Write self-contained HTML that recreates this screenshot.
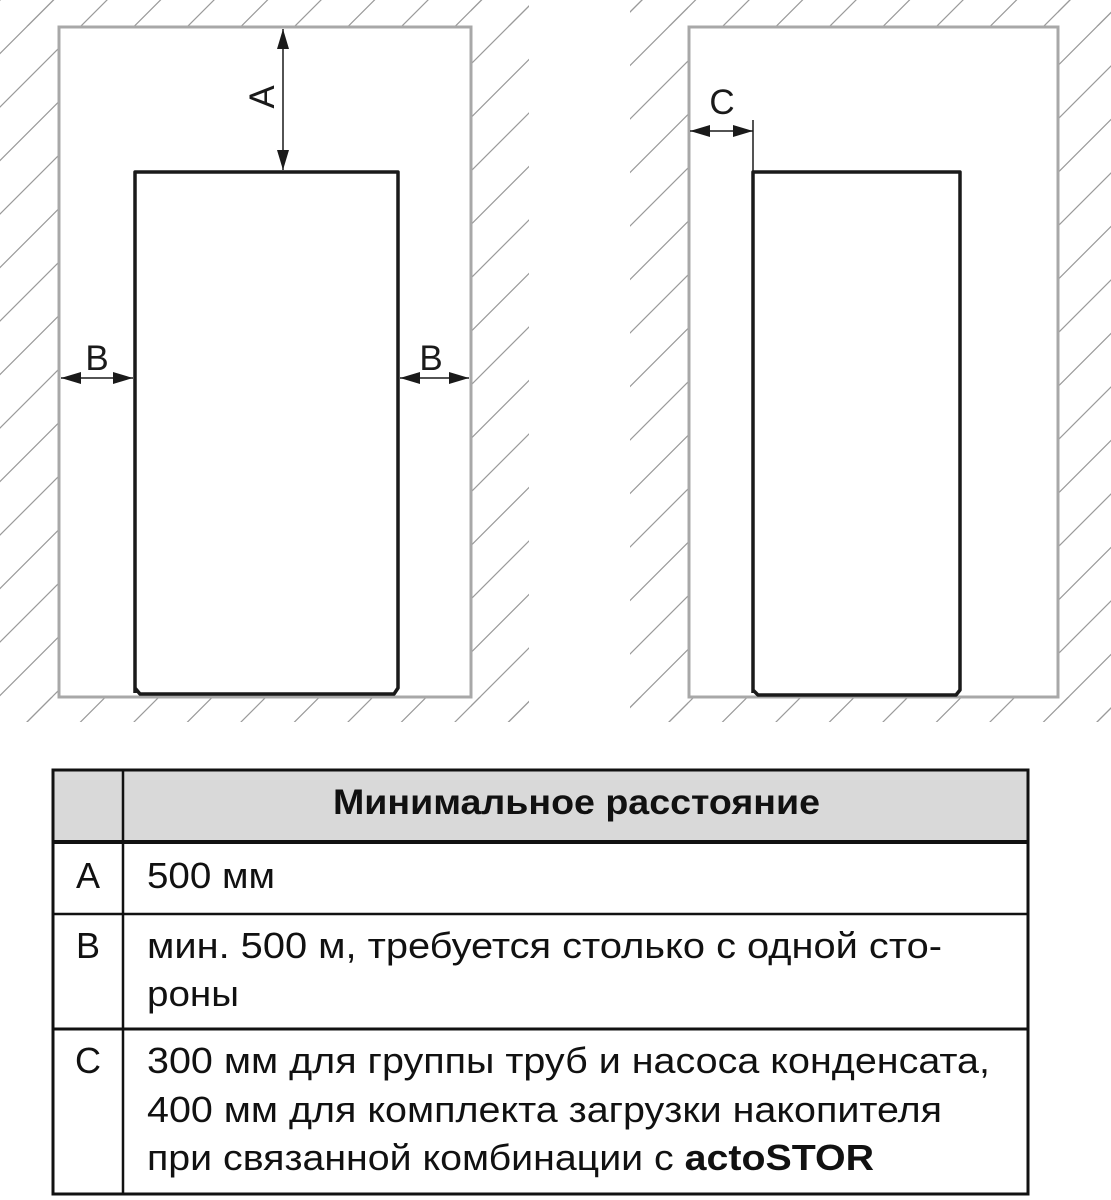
<!DOCTYPE html>
<html><head><meta charset="utf-8"><style>html,body{margin:0;padding:0;background:#fff}svg{display:block}text{font-family:"Liberation Sans",sans-serif}</style></head>
<body>
<svg width="1111" height="1200" viewBox="0 0 1111 1200" xmlns="http://www.w3.org/2000/svg">
<defs>
<pattern id="h" patternUnits="userSpaceOnUse" width="53.5" height="53.5">
<path d="M-5,58.5 L58.5,-5 M-5,5 L5,-5 M48.5,58.5 L58.5,48.5" stroke="#9a9a9a" stroke-width="1.2"/>
</pattern>
<marker id="ar2" viewBox="0 0 20 12" refX="20" refY="6" markerWidth="20" markerHeight="12" markerUnits="userSpaceOnUse" orient="auto-start-reverse">
<path d="M0,0 L20,6 L0,12 z" fill="#1a1a1a"/></marker>
</defs>
<g fill="url(#h)">
<rect x="0" y="0" width="529" height="26"/>
<rect x="0" y="0" width="58" height="722"/>
<rect x="471" y="0" width="58" height="722"/>
<rect x="0" y="697" width="529" height="25"/>
<rect x="630" y="0" width="481" height="26"/>
<rect x="630" y="0" width="58" height="722"/>
<rect x="1058" y="0" width="53" height="722"/>
<rect x="630" y="697" width="481" height="25"/>
</g>
<g fill="#fff" stroke="#a8a8a8" stroke-width="3">
<rect x="59" y="27" width="412" height="670"/>
<rect x="689" y="27" width="369" height="670"/>
</g>
<path d="M135,693 L135,172 L398,172 L398,688 L394,694 L140,694 L135,688" fill="#fff" stroke="#1a1a1a" stroke-width="3.5" stroke-linejoin="round"/>
<path d="M753,693 L753,172 L960,172 L960,690 L956,695 L758,695 L753,690" fill="#fff" stroke="#1a1a1a" stroke-width="3.5" stroke-linejoin="round"/>
<g stroke="#1a1a1a" stroke-width="1.5" fill="none">
<line x1="283" y1="29" x2="283" y2="170" marker-start="url(#ar2)" marker-end="url(#ar2)"/>
<line x1="61" y1="378" x2="133" y2="378" marker-start="url(#ar2)" marker-end="url(#ar2)"/>
<line x1="400" y1="378" x2="469" y2="378" marker-start="url(#ar2)" marker-end="url(#ar2)"/>
<line x1="690" y1="131" x2="753" y2="131" marker-start="url(#ar2)" marker-end="url(#ar2)"/>
<line x1="753" y1="120" x2="753" y2="172"/>
</g>
<g fill="#1a1a1a" style="font-size:35px">
<text transform="translate(274,97) rotate(-90)" text-anchor="middle">A</text>
<text x="97" y="370" text-anchor="middle">B</text>
<text x="431" y="370" text-anchor="middle">B</text>
<text x="722" y="114" text-anchor="middle">C</text>
</g>
<rect x="53" y="770" width="975" height="71" fill="#d9d9d9"/>
<g stroke="#111" fill="none">
<rect x="53" y="770" width="975" height="424" stroke-width="3"/>
<line x1="123" y1="770" x2="123" y2="1194" stroke-width="2.5"/>
<line x1="53" y1="842" x2="1028" y2="842" stroke-width="4"/>
<line x1="53" y1="914" x2="1028" y2="914" stroke-width="2.5"/>
<line x1="53" y1="1029" x2="1028" y2="1029" stroke-width="3"/>
</g>
<g fill="#111" style="font-size:36px">
<text x="333" y="814" textLength="487" lengthAdjust="spacingAndGlyphs" style="font-weight:bold;font-size:35px">Минимальное расстояние</text>
<text x="88" y="888" text-anchor="middle">A</text>
<text x="88" y="958" text-anchor="middle">B</text>
<text x="88" y="1073" text-anchor="middle">C</text>
<text x="147" y="888" textLength="128" lengthAdjust="spacingAndGlyphs">500 мм</text>
<text x="147" y="958" textLength="795" lengthAdjust="spacingAndGlyphs">мин. 500 м, требуется столько с одной сто-</text>
<text x="147" y="1006" textLength="92" lengthAdjust="spacingAndGlyphs">роны</text>
<text x="147" y="1073" textLength="843" lengthAdjust="spacingAndGlyphs">300 мм для группы труб и насоса конденсата,</text>
<text x="147" y="1122" textLength="795" lengthAdjust="spacingAndGlyphs">400 мм для комплекта загрузки накопителя</text>
<text x="147" y="1170" textLength="727" lengthAdjust="spacingAndGlyphs">при связанной комбинации с <tspan style="font-weight:bold">actoSTOR</tspan></text>
</g>
</svg>
</body></html>
